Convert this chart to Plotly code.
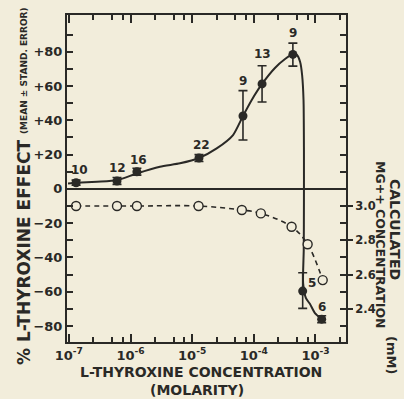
import numpy as np
import plotly.graph_objects as go

# ---------------- data ----------------
# L-thyroxine effect (% , mean +/- s.e.), filled circles, left axis
conc_effect = [1.31e-7, 6.04e-7, 1.27e-6, 1.29e-5, 6.67e-5, 1.36e-4, 4.3e-4, 6.2e-4, 1.26e-3]
effect_mean = [3.6, 4.6, 10.0, 18.0, 42.5, 61.2, 78.4, -59.6, -76.0]
effect_err_plus = [1.5, 2.0, 2.0, 2.0, 14.8, 10.6, 6.6, 10.7, 2.0]
effect_err_minus = [1.5, 2.0, 2.0, 2.0, 14.0, 10.5, 6.8, 10.1, 2.0]
n_obs = ["10", "12", "16", "22", "9", "13", "9", "5", "6"]

# hand-drawn fitted curve through the effect points
curve_conc = [9.7e-8, 1.31e-7, 2.86e-7, 6.04e-7, 1.27e-6, 3.0e-6, 6.35e-6, 1.29e-5,
              2.5e-5, 4.6e-5, 6.67e-5, 9.3e-5, 1.36e-4, 2.2e-4, 3.21e-4, 4.33e-4,
              5.02e-4, 5.64e-4, 6.07e-4, 6.4e-4, 6.5e-4, 6.5e-4, 6.45e-4, 6.3e-4,
              7.0e-4, 8.15e-4, 9.8e-4, 1.26e-3]
curve_effect = [3.2, 3.6, 4.2, 5.0, 9.0, 12.9, 14.9, 18.0,
                23.6, 31.4, 42.5, 52.0, 61.2, 70.5, 75.7, 78.6,
                78.0, 74.0, 66.4, 51.8, 22.6, -6.5, -35.7, -55.0,
                -63.7, -67.2, -72.5, -76.0]

# calculated Mg++ concentration (mM), open circles, right axis
conc_mg = [1.31e-7, 6.04e-7, 1.27e-6, 1.27e-5, 6.4e-5, 1.3e-4, 4.1e-4, 7.46e-4, 1.31e-3]
mg_conc = [3.00, 3.00, 3.00, 3.00, 2.977, 2.957, 2.879, 2.777, 2.568]

# tick labels
x_tickvals = [1e-7, 1e-6, 1e-5, 1e-4, 1e-3]
x_ticktext = ["10<sup>-7</sup>", "10<sup>-6</sup>", "10<sup>-5</sup>",
              "10<sup>-4</sup>", "10<sup>-3</sup>"]
x_minor_vals = [d * m for d in x_tickvals for m in (2.5, 5, 7.5)]
y_tickvals = [-80, -60, -40, -20, 0, 20, 40, 60, 80]
y_ticktext = ["\u221280", "\u221260", "\u221240", "\u221220", "0", "+20", "+40", "+60", "+80"]
y_minor_vals = [-70, -50, -30, -10, 10, 30, 50, 70, 90]
y2_tickvals = [2.4, 2.6, 2.8, 3.0]
y2_ticktext = ["2.4", "2.6", "2.8", "3.0"]

# ---------------- style ----------------
INK = "#2a2926"
BG = "#f2eddb"
FONT = "DejaVu Sans"

fig = go.Figure()

fig.add_trace(go.Scatter(
    x=curve_conc, y=curve_effect, mode="lines",
    line=dict(color=INK, width=2, shape="spline", smoothing=0.6),
    hoverinfo="skip", showlegend=False))

fig.add_trace(go.Scatter(
    x=conc_effect, y=effect_mean, mode="markers",
    marker=dict(color=INK, size=9, symbol="circle"),
    error_y=dict(type="data", symmetric=False, array=effect_err_plus,
                 arrayminus=effect_err_minus, color=INK, thickness=1.6, width=4.5),
    showlegend=False))

fig.add_trace(go.Scatter(
    x=conc_mg, y=mg_conc, mode="lines+markers", yaxis="y2",
    line=dict(color=INK, width=1.6, dash="5px,4px", shape="spline", smoothing=1.0),
    marker=dict(color=BG, size=9, symbol="circle", line=dict(color=INK, width=1.4)),
    showlegend=False))

# n labels
label_dx = [3, 0, 2, 3, 0, 0, 0, 9, 0]
label_dy = [10, 10, 8, 10, 10, 12, 10, 8, 12]
for i, lab in enumerate(n_obs):
    on_point = i >= 7
    yv = effect_mean[i] if on_point else effect_mean[i] + effect_err_plus[i]
    fig.add_annotation(x=np.log10(conc_effect[i]), y=yv, xref="x", yref="y",
                       text=lab, showarrow=False, xshift=label_dx[i], yshift=label_dy[i],
                       font=dict(family=FONT, size=12, color=INK, weight="bold"))

# axis titles (paper coords)
L, R, T, B = 67, 346, 15, 342
W, H = R - L, B - T
def px(xp, yp):
    return (xp - L) / W, (B - yp) / H

titles = [
    ("% L-THYROXINE EFFECT", 24, 252, -90, 17, "bold"),
    ("(MEAN \u00b1 STAND. ERROR)", 24, 71, -90, 9, "bold"),
    ("L-THYROXINE CONCENTRATION", 201, 372, 0, 14, "bold"),
    ("(MOLARITY)", 197, 390, 0, 14, "bold"),
    ("CALCULATED", 395, 229, 90, 14, "bold"),
    ("MG++ CONCENTRATION", 381, 245, 90, 12.5, "bold"),
    ("(mM)", 391, 355, 90, 13, "bold"),
]
for text, xx, yy, ang, size, wt in titles:
    xp, yp = px(xx, yy)
    fig.add_annotation(x=xp, y=yp, xref="paper", yref="paper", text=text,
                       showarrow=False, textangle=ang, xanchor="center", yanchor="middle",
                       font=dict(family=FONT, size=size, color=INK, weight=wt))

fig.update_layout(
    width=404, height=399,
    margin=dict(l=L, r=404 - R, t=T, b=399 - B),
    paper_bgcolor=BG, plot_bgcolor=BG,
    font=dict(family=FONT, color=INK),
    xaxis=dict(type="log", range=[-7.03, -2.505], tickmode="array",
               tickvals=x_tickvals, ticktext=x_ticktext,
               ticks="inside", ticklen=8, tickwidth=1.5,
               tickcolor=INK, showline=True, linewidth=2, linecolor=INK, mirror="ticks",
               showgrid=False, zeroline=False,
               tickfont=dict(family=FONT, size=13, color=INK, weight="bold"),
               minor=dict(tickmode="array", tickvals=x_minor_vals, ticks="inside",
                          ticklen=5, tickwidth=1.5, tickcolor=INK, showgrid=False)),
    yaxis=dict(range=[-89.3, 101.4], tickmode="array",
               tickvals=y_tickvals, ticktext=y_ticktext,
               ticks="inside", ticklen=6, tickwidth=1.5, tickcolor=INK,
               showline=True, linewidth=2, linecolor=INK, mirror="ticks",
               showgrid=False, zeroline=True, zerolinewidth=2, zerolinecolor=INK,
               tickfont=dict(family=FONT, size=13, color=INK, weight="bold"),
               minor=dict(tickmode="array", tickvals=y_minor_vals, ticks="inside",
                          ticklen=6, tickwidth=1.5, tickcolor=INK, showgrid=False)),
    yaxis2=dict(overlaying="y", side="right", range=[2.207, 4.114],
                tickvals=y2_tickvals, ticktext=y2_ticktext, ticks="outside",
                ticklen=6, tickwidth=1.5, tickcolor=INK, showline=False,
                showgrid=False, zeroline=False,
                tickfont=dict(family=FONT, size=11.5, color=INK, weight="bold")),
)

fig.write_html(
    "out.html",
    config={"displayModeBar": False},
    post_script="document.body.style.margin='0';document.body.style.background='%s';" % BG,
)
